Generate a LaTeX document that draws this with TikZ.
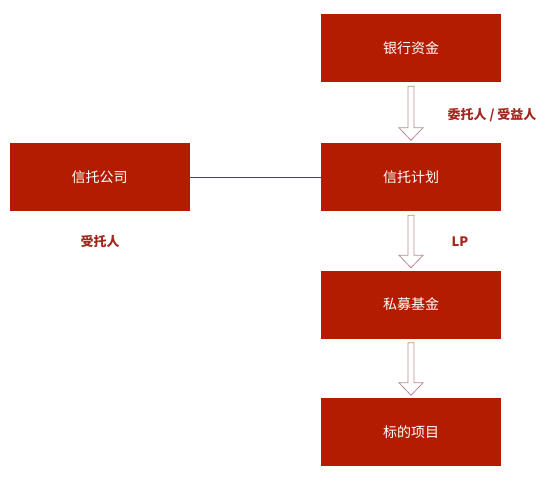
\documentclass[tikz,border=0pt]{standalone}
\usepackage{fontspec}
\setmainfont{Noto Sans CJK SC}
\usetikzlibrary{calc}
\definecolor{boxred}{RGB}{180,28,2}
\definecolor{labred}{RGB}{160,40,30}
\definecolor{arrowline}{RGB}{185,140,140}
\tikzset{
  box/.style={fill=boxred, draw=none, minimum width=180pt, minimum height=68pt, inner sep=0pt, text=white, font=\fontsize{14pt}{16pt}\selectfont},
  lab/.style={text=labred, font=\bfseries\fontsize{13pt}{15pt}\selectfont, inner sep=0pt},
  harrow/.style={draw=arrowline, fill=white, line width=0.8pt, line join=miter},
  link/.style={draw=boxred, line width=0.8pt}
}
\newcommand\hollowarrow[2]{%
  \draw[harrow] let \p1=(#1.south), \p2=(#2.north) in
    (\x1-3pt,\y1-4pt) -- (\x1-3pt,\y2+15pt) -- (\x1-12pt,\y2+15pt) -- (\x1,\y2+2.5pt)
    -- (\x1+12pt,\y2+15pt) -- (\x1+3pt,\y2+15pt) -- (\x1+3pt,\y1-4pt) -- cycle;}
\begin{document}
\begin{tikzpicture}[x=1pt,y=-1pt]
\useasboundingbox (0,0) rectangle (554,484);
\node[box] (bank) at (411,48) {银行资金};
\node[box] (plan) at (411,177) {信托计划};
\node[box] (company) at (99.5,177) {信托公司};
\node[box] (fund) at (411,304.5) {私募基金};
\node[box] (target) at (411,432) {标的项目};
\draw[link] (company.east) -- (plan.west);
\hollowarrow{bank}{plan}
\hollowarrow{plan}{fund}
\hollowarrow{fund}{target}
\node[lab] (l1) at (492,115) {委托人 / 受益人};
\node[lab] (l2) at (460,242) {LP};
\node[lab] (l3) at (100,242) {受托人};
\end{tikzpicture}
\end{document}
